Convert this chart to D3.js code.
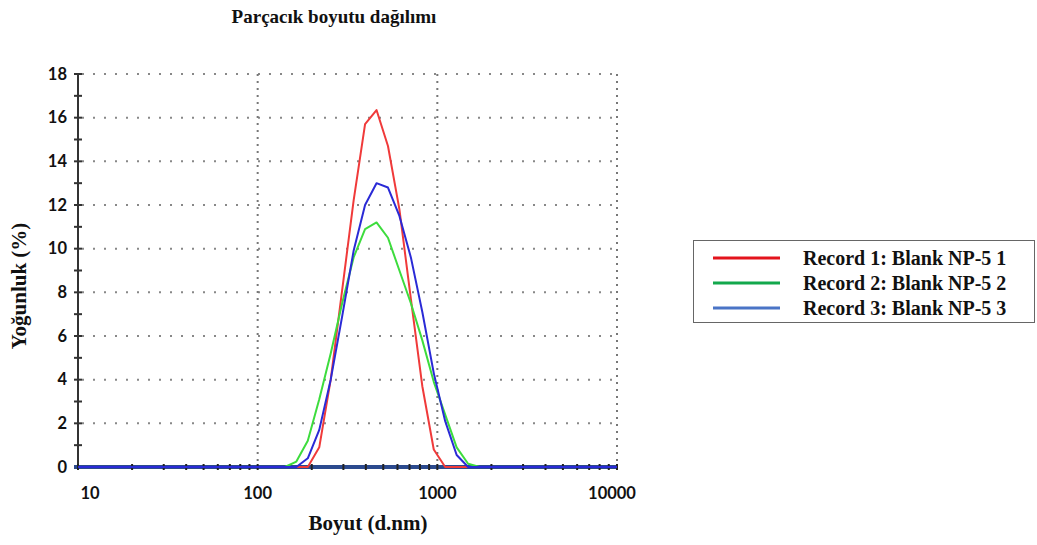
<!DOCTYPE html>
<html><head><meta charset="utf-8">
<script src="https://cdn.jsdelivr.net/npm/d3@7"></script>
<style>body{margin:0;background:#fff;} svg{display:block;}</style>
</head><body>
<svg id="c" width="1037" height="545"></svg>
<script>
const title = "Parçacık boyutu dağılımı";
const xTitle = "Boyut (d.nm)";
const yTitle = "Yoğunluk (%)";
const sizes = [10, 141.8, 164.2, 190.1, 220.2, 255.0, 295.3, 342.0, 396.1, 458.7, 531.2, 615.1, 712.4, 825.0, 955.4, 1106, 1281, 1484, 1718, 1990, 10000];
const record1 = [0, 0, 0, 0, 0.9, 4.0, 8.1, 12.2, 15.7, 16.35, 14.7, 11.8, 7.7, 3.7, 0.8, 0, 0, 0, 0, 0, 0];
const record2 = [0, 0, 0.25, 1.2, 3.1, 5.2, 7.5, 9.6, 10.9, 11.2, 10.5, 9.0, 7.5, 5.8, 3.9, 2.4, 0.9, 0.15, 0, 0, 0];
const record3 = [0, 0, 0, 0.4, 1.7, 4.0, 6.9, 9.9, 12.0, 13.0, 12.8, 11.5, 9.6, 7.1, 4.3, 2.1, 0.55, 0, 0, 0, 0];
const seriesNames = ["Record 1: Blank NP-5 1", "Record 2: Blank NP-5 2", "Record 3: Blank NP-5 3"];
const lineColors = ["#f03a3a", "#3ddc3d", "#2a2ad6"];
const legendColors = ["#e3141c", "#13a84c", "#4a74c6"];
const xTicks = [10, 100, 1000, 10000];
const yTicks = [0, 2, 4, 6, 8, 10, 12, 14, 16, 18];

const svg = d3.select("#c");
const x = d3.scaleLog().domain([10, 10000]).range([78, 617]);
const y = d3.scaleLinear().domain([0, 18]).range([467, 74]);

// grid
const g = svg.append("g");
g.selectAll(".hg").data(yTicks.filter(d => d > 0)).join("line")
  .attr("x1", 82).attr("x2", 617).attr("y1", d => y(d)).attr("y2", d => y(d))
  .attr("stroke", "#888").attr("stroke-width", 2).attr("stroke-dasharray", "2,9");
g.selectAll(".vg").data(xTicks.slice(1)).join("line")
  .attr("x1", d => x(d)).attr("x2", d => x(d)).attr("y1", y(18)).attr("y2", y(0))
  .attr("stroke", "#777").attr("stroke-width", 2).attr("stroke-dasharray", "2,5");

// y axis
svg.append("line").attr("x1", 78).attr("x2", 78).attr("y1", y(18)).attr("y2", y(0) + 2)
  .attr("stroke", "#333").attr("stroke-width", 2);
svg.selectAll(".ytk").data(d3.range(0, 19)).join("line")
  .attr("x1", 74).attr("x2", 82).attr("y1", d => y(d)).attr("y2", d => y(d))
  .attr("stroke", "#333").attr("stroke-width", 2);
svg.selectAll(".ylab").data(yTicks).join("text")
  .attr("x", 67).attr("y", d => y(d)).attr("dy", "0.35em").attr("text-anchor", "end")
  .attr("font-family", "Lato, 'Open Sans', sans-serif").attr("font-weight", "bold").attr("font-size", 16.5)
  .attr("fill", "#111").text(d => d);

// x axis
svg.append("line").attr("x1", 74).attr("x2", 617).attr("y1", y(0)).attr("y2", y(0))
  .attr("stroke", "#2b4a8e").attr("stroke-width", 4);
const minor = [];
[10, 100, 1000].forEach(b => { for (let i = 2; i <= 9; i++) minor.push(b * i); });
svg.selectAll(".xtk").data(minor.concat(xTicks)).join("line")
  .attr("x1", d => x(d)).attr("x2", d => x(d)).attr("y1", y(0) - 3).attr("y2", y(0) + 3)
  .attr("stroke", "#222").attr("stroke-width", 2);

// series
const line = d3.line().x((d, i) => x(sizes[i])).y(d => y(d));
[record1, record2, record3].forEach((s, i) => {
  svg.append("path").datum(s).attr("d", line).attr("fill", "none")
    .attr("stroke", lineColors[i]).attr("stroke-width", 2).attr("stroke-linejoin", "round");
});

svg.selectAll(".xlab").data(xTicks).join("text")
  .attr("x", (d, i) => x(d) + (i === 0 ? 12 : (i === 3 ? -5 : 0))).attr("y", 499).attr("text-anchor", "middle")
  .attr("font-family", "Lato, 'Open Sans', sans-serif").attr("font-weight", "bold").attr("font-size", 16.5)
  .attr("fill", "#111").text(d => d);

// titles
const serif = "'Liberation Serif', 'Times New Roman', serif";
svg.append("text").attr("x", 334).attr("y", 23).attr("text-anchor", "middle")
  .attr("font-family", serif).attr("font-weight", "bold").attr("font-size", 19).attr("fill", "#111").text(title);
svg.append("text").attr("x", 368).attr("y", 530).attr("text-anchor", "middle")
  .attr("font-family", serif).attr("font-weight", "bold").attr("font-size", 21).attr("fill", "#111").text(xTitle);
svg.append("text").attr("transform", "translate(26,286) rotate(-90)").attr("text-anchor", "middle")
  .attr("font-family", serif).attr("font-weight", "bold").attr("font-size", 21).attr("fill", "#111").text(yTitle);

// legend
const lg = svg.append("g");
lg.append("rect").attr("x", 693.5).attr("y", 240.5).attr("width", 341).attr("height", 82)
  .attr("fill", "#fff").attr("stroke", "#666").attr("stroke-width", 1);
seriesNames.forEach((n, i) => {
  const yy = 258 + i * 25;
  lg.append("line").attr("x1", 713).attr("x2", 780).attr("y1", yy).attr("y2", yy)
    .attr("stroke", legendColors[i]).attr("stroke-width", 3);
  lg.append("text").attr("x", 803).attr("y", yy).attr("dy", "0.35em")
    .attr("font-family", serif).attr("font-weight", "bold").attr("font-size", 20).attr("fill", "#111").text(n);
});
</script>
</body></html>
